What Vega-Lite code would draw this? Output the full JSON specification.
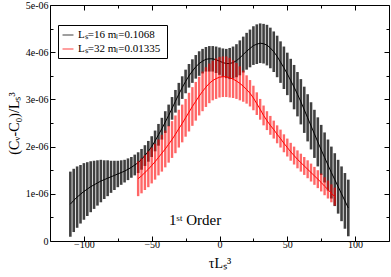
{
 "$schema": "https://vega.github.io/schema/vega-lite/v6.json",
 "width": 339, "height": 236,
 "autosize": "none",
 "padding": {"left": 50, "top": 5, "right": 2, "bottom": 36},
 "background": "white",
 "config": {
  "font": "Liberation Serif",
  "view": {"stroke": null},
  "axis": {"grid": false, "domainColor": "black", "tickColor": "black", "labelColor": "black", "titleColor": "black", "labelFont": "Liberation Serif", "titleFont": "Liberation Serif", "labelFontSize": 10, "titleFontWeight": "normal", "titleFontSize": 14},
  "legend": {"orient": "none", "legendX": 8, "legendY": 20, "strokeColor": "black", "fillColor": "white", "padding": 4, "symbolType": "stroke", "symbolStrokeWidth": 1, "symbolSize": 120, "labelFont": "Liberation Serif", "labelFontSize": 11, "rowPadding": 3}
 },
 "datasets": {
  "black": [
   {"x": -110, "y": 0.78e-6, "e": 0.69e-6}, {"x": -107.5, "y": 0.86e-6, "e": 0.67e-6}, {"x": -105, "y": 0.93e-6, "e": 0.65e-6}, {"x": -102.5, "y": 0.99e-6, "e": 0.62e-6},
   {"x": -100, "y": 1.05e-6, "e": 0.60e-6}, {"x": -97.5, "y": 1.10e-6, "e": 0.57e-6}, {"x": -95, "y": 1.15e-6, "e": 0.54e-6}, {"x": -92.5, "y": 1.19e-6, "e": 0.51e-6},
   {"x": -90, "y": 1.23e-6, "e": 0.48e-6}, {"x": -87.5, "y": 1.27e-6, "e": 0.45e-6}, {"x": -85, "y": 1.30e-6, "e": 0.41e-6}, {"x": -82.5, "y": 1.33e-6, "e": 0.38e-6},
   {"x": -80, "y": 1.36e-6, "e": 0.34e-6}, {"x": -77.5, "y": 1.39e-6, "e": 0.31e-6}, {"x": -75, "y": 1.42e-6, "e": 0.28e-6}, {"x": -72.5, "y": 1.45e-6, "e": 0.26e-6},
   {"x": -70, "y": 1.48e-6, "e": 0.24e-6}, {"x": -67.5, "y": 1.52e-6, "e": 0.23e-6}, {"x": -65, "y": 1.56e-6, "e": 0.22e-6}, {"x": -62.5, "y": 1.61e-6, "e": 0.22e-6},
   {"x": -60, "y": 1.66e-6, "e": 0.22e-6}, {"x": -57.5, "y": 1.73e-6, "e": 0.22e-6}, {"x": -55, "y": 1.81e-6, "e": 0.22e-6}, {"x": -52.5, "y": 1.90e-6, "e": 0.22e-6},
   {"x": -50, "y": 2.00e-6, "e": 0.22e-6}, {"x": -47.5, "y": 2.12e-6, "e": 0.22e-6}, {"x": -45, "y": 2.25e-6, "e": 0.23e-6}, {"x": -42.5, "y": 2.38e-6, "e": 0.23e-6},
   {"x": -40, "y": 2.52e-6, "e": 0.23e-6}, {"x": -37.5, "y": 2.66e-6, "e": 0.23e-6}, {"x": -35, "y": 2.81e-6, "e": 0.24e-6}, {"x": -32.5, "y": 2.96e-6, "e": 0.24e-6},
   {"x": -30, "y": 3.11e-6, "e": 0.24e-6}, {"x": -27.5, "y": 3.25e-6, "e": 0.24e-6}, {"x": -25, "y": 3.38e-6, "e": 0.25e-6}, {"x": -22.5, "y": 3.50e-6, "e": 0.25e-6},
   {"x": -20, "y": 3.60e-6, "e": 0.25e-6}, {"x": -17.5, "y": 3.69e-6, "e": 0.25e-6}, {"x": -15, "y": 3.76e-6, "e": 0.26e-6}, {"x": -12.5, "y": 3.81e-6, "e": 0.26e-6},
   {"x": -10, "y": 3.85e-6, "e": 0.26e-6}, {"x": -7.5, "y": 3.86e-6, "e": 0.27e-6}, {"x": -5, "y": 3.86e-6, "e": 0.27e-6}, {"x": -2.5, "y": 3.84e-6, "e": 0.28e-6},
   {"x": 0, "y": 3.81e-6, "e": 0.29e-6}, {"x": 2.5, "y": 3.78e-6, "e": 0.30e-6}, {"x": 5, "y": 3.76e-6, "e": 0.31e-6}, {"x": 7.5, "y": 3.76e-6, "e": 0.33e-6},
   {"x": 10, "y": 3.78e-6, "e": 0.34e-6}, {"x": 12.5, "y": 3.82e-6, "e": 0.35e-6}, {"x": 15, "y": 3.88e-6, "e": 0.37e-6}, {"x": 17.5, "y": 3.95e-6, "e": 0.38e-6},
   {"x": 20, "y": 4.02e-6, "e": 0.39e-6}, {"x": 22.5, "y": 4.08e-6, "e": 0.40e-6}, {"x": 25, "y": 4.14e-6, "e": 0.41e-6}, {"x": 27.5, "y": 4.17e-6, "e": 0.42e-6},
   {"x": 30, "y": 4.19e-6, "e": 0.42e-6}, {"x": 32.5, "y": 4.18e-6, "e": 0.42e-6}, {"x": 35, "y": 4.15e-6, "e": 0.43e-6}, {"x": 37.5, "y": 4.09e-6, "e": 0.43e-6},
   {"x": 40, "y": 4.01e-6, "e": 0.43e-6}, {"x": 42.5, "y": 3.91e-6, "e": 0.44e-6}, {"x": 45, "y": 3.79e-6, "e": 0.44e-6}, {"x": 47.5, "y": 3.67e-6, "e": 0.45e-6},
   {"x": 50, "y": 3.54e-6, "e": 0.45e-6}, {"x": 52.5, "y": 3.40e-6, "e": 0.46e-6}, {"x": 55, "y": 3.26e-6, "e": 0.47e-6}, {"x": 57.5, "y": 3.11e-6, "e": 0.47e-6},
   {"x": 60, "y": 2.95e-6, "e": 0.48e-6}, {"x": 62.5, "y": 2.78e-6, "e": 0.49e-6}, {"x": 65, "y": 2.61e-6, "e": 0.50e-6}, {"x": 67.5, "y": 2.44e-6, "e": 0.50e-6},
   {"x": 70, "y": 2.27e-6, "e": 0.51e-6}, {"x": 72.5, "y": 2.10e-6, "e": 0.52e-6}, {"x": 75, "y": 1.93e-6, "e": 0.53e-6}, {"x": 77.5, "y": 1.77e-6, "e": 0.53e-6},
   {"x": 80, "y": 1.61e-6, "e": 0.54e-6}, {"x": 82.5, "y": 1.45e-6, "e": 0.55e-6}, {"x": 85, "y": 1.30e-6, "e": 0.56e-6}, {"x": 87.5, "y": 1.15e-6, "e": 0.57e-6},
   {"x": 90, "y": 1.00e-6, "e": 0.58e-6}, {"x": 92.5, "y": 0.85e-6, "e": 0.59e-6}, {"x": 95, "y": 0.70e-6, "e": 0.60e-6}
  ],
  "red": [
   {"x": -60, "y": 1.32e-6, "e": 0.37e-6}, {"x": -57.5, "y": 1.38e-6, "e": 0.37e-6}, {"x": -55, "y": 1.45e-6, "e": 0.37e-6}, {"x": -52.5, "y": 1.52e-6, "e": 0.38e-6},
   {"x": -50, "y": 1.60e-6, "e": 0.38e-6}, {"x": -47.5, "y": 1.68e-6, "e": 0.38e-6}, {"x": -45, "y": 1.77e-6, "e": 0.38e-6}, {"x": -42.5, "y": 1.86e-6, "e": 0.39e-6},
   {"x": -40, "y": 1.95e-6, "e": 0.39e-6}, {"x": -37.5, "y": 2.05e-6, "e": 0.39e-6}, {"x": -35, "y": 2.15e-6, "e": 0.39e-6}, {"x": -32.5, "y": 2.26e-6, "e": 0.40e-6},
   {"x": -30, "y": 2.38e-6, "e": 0.40e-6}, {"x": -27.5, "y": 2.49e-6, "e": 0.40e-6}, {"x": -25, "y": 2.61e-6, "e": 0.40e-6}, {"x": -22.5, "y": 2.73e-6, "e": 0.41e-6},
   {"x": -20, "y": 2.85e-6, "e": 0.41e-6}, {"x": -17.5, "y": 2.96e-6, "e": 0.41e-6}, {"x": -15, "y": 3.07e-6, "e": 0.41e-6}, {"x": -12.5, "y": 3.17e-6, "e": 0.42e-6},
   {"x": -10, "y": 3.26e-6, "e": 0.42e-6}, {"x": -7.5, "y": 3.34e-6, "e": 0.42e-6}, {"x": -5, "y": 3.40e-6, "e": 0.42e-6}, {"x": -2.5, "y": 3.44e-6, "e": 0.43e-6},
   {"x": 0, "y": 3.47e-6, "e": 0.43e-6}, {"x": 2.5, "y": 3.48e-6, "e": 0.43e-6}, {"x": 5, "y": 3.48e-6, "e": 0.43e-6}, {"x": 7.5, "y": 3.46e-6, "e": 0.42e-6},
   {"x": 10, "y": 3.43e-6, "e": 0.40e-6}, {"x": 12.5, "y": 3.39e-6, "e": 0.38e-6}, {"x": 15, "y": 3.34e-6, "e": 0.36e-6}, {"x": 17.5, "y": 3.28e-6, "e": 0.33e-6},
   {"x": 20, "y": 3.21e-6, "e": 0.30e-6}, {"x": 22.5, "y": 3.13e-6, "e": 0.28e-6}, {"x": 25, "y": 3.03e-6, "e": 0.26e-6}, {"x": 27.5, "y": 2.91e-6, "e": 0.24e-6},
   {"x": 30, "y": 2.79e-6, "e": 0.22e-6}, {"x": 32.5, "y": 2.66e-6, "e": 0.21e-6}, {"x": 35, "y": 2.55e-6, "e": 0.20e-6}, {"x": 37.5, "y": 2.45e-6, "e": 0.20e-6},
   {"x": 40, "y": 2.36e-6, "e": 0.19e-6}, {"x": 42.5, "y": 2.26e-6, "e": 0.19e-6}, {"x": 45, "y": 2.17e-6, "e": 0.19e-6}, {"x": 47.5, "y": 2.07e-6, "e": 0.19e-6},
   {"x": 50, "y": 1.98e-6, "e": 0.19e-6}, {"x": 52.5, "y": 1.89e-6, "e": 0.19e-6}, {"x": 55, "y": 1.81e-6, "e": 0.19e-6}, {"x": 57.5, "y": 1.73e-6, "e": 0.19e-6},
   {"x": 60, "y": 1.66e-6, "e": 0.19e-6}, {"x": 62.5, "y": 1.59e-6, "e": 0.19e-6}, {"x": 65, "y": 1.52e-6, "e": 0.19e-6}, {"x": 67.5, "y": 1.45e-6, "e": 0.19e-6},
   {"x": 70, "y": 1.38e-6, "e": 0.19e-6}, {"x": 72.5, "y": 1.31e-6, "e": 0.19e-6}, {"x": 75, "y": 1.24e-6, "e": 0.19e-6}, {"x": 77.5, "y": 1.16e-6, "e": 0.19e-6},
   {"x": 80, "y": 1.09e-6, "e": 0.19e-6}, {"x": 82.5, "y": 1.01e-6, "e": 0.19e-6}, {"x": 85, "y": 0.94e-6, "e": 0.19e-6}
  ],
  "notes": [{"x": -18, "y": 0.45e-6, "t": "1ˢᵗ Order"}]
 },
 "layer": [
  {
   "data": {"name": "black"},
   "mark": {"type": "errorbar", "thickness": 2.6, "opacity": 0.75},
   "encoding": {
    "x": {"field": "x", "type": "quantitative", "scale": {"domain": [-125, 125], "nice": false},
          "axis": {"orient": "bottom", "values": [-100, -50, 0, 50, 100], "tickSize": -5, "labelPadding": 3, "title": "τLₛ³", "titlePadding": 7}},
    "y": {"field": "y", "type": "quantitative", "scale": {"domain": [0, 5e-6], "nice": false},
          "axis": {"orient": "left", "values": [0, 1e-6, 2e-6, 3e-6, 4e-6, 5e-6], "tickSize": -5, "labelPadding": 7,
                   "labelExpr": "datum.value == 0 ? '0' : replace(format(datum.value, '.0e'), 'e-', 'e-0')", "title": "(Cᵥ-C₀)/Lₛ³", "titlePadding": 4}},
    "yError": {"field": "e"},
    "color": {"datum": "Lₛ=16  mₗ=0.1068", "type": "nominal",
              "scale": {"domain": ["Lₛ=16  mₗ=0.1068", "Lₛ=32  mₗ=0.01335"], "range": ["black", "red"]},
              "legend": {"title": null}}
   }
  },
  {
   "data": {"name": "black"},
   "mark": {"type": "line", "strokeWidth": 1},
   "encoding": {
    "x": {"field": "x", "type": "quantitative", "axis": {"orient": "top", "values": [-100, -50, 0, 50, 100], "tickSize": -5, "labels": false, "title": null}},
    "y": {"field": "y", "type": "quantitative", "axis": {"orient": "right", "values": [0, 1e-6, 2e-6, 3e-6, 4e-6, 5e-6], "tickSize": -5, "labels": false, "title": null}},
    "color": {"datum": "Lₛ=16  mₗ=0.1068", "type": "nominal"}
   }
  },
  {
   "data": {"name": "red"},
   "mark": {"type": "errorbar", "thickness": 2.4, "opacity": 0.6},
   "encoding": {
    "x": {"field": "x", "type": "quantitative", "axis": {"orient": "bottom", "values": [-75, -25, 25, 75], "tickSize": -3, "labels": false, "domain": false, "title": null}},
    "y": {"field": "y", "type": "quantitative", "axis": {"orient": "left", "values": [0.5e-6, 1.5e-6, 2.5e-6, 3.5e-6, 4.5e-6], "tickSize": -3, "labels": false, "domain": false, "title": null}},
    "yError": {"field": "e"},
    "color": {"datum": "Lₛ=32  mₗ=0.01335", "type": "nominal"}
   }
  },
  {
   "data": {"name": "red"},
   "mark": {"type": "line", "strokeWidth": 1},
   "encoding": {
    "x": {"field": "x", "type": "quantitative", "axis": {"orient": "top", "values": [-75, -25, 25, 75], "tickSize": -3, "labels": false, "domain": false, "title": null}},
    "y": {"field": "y", "type": "quantitative", "axis": {"orient": "right", "values": [0.5e-6, 1.5e-6, 2.5e-6, 3.5e-6, 4.5e-6], "tickSize": -3, "labels": false, "domain": false, "title": null}},
    "color": {"datum": "Lₛ=32  mₗ=0.01335", "type": "nominal"}
   }
  },
  {
   "data": {"name": "notes"},
   "mark": {"type": "text", "font": "Liberation Serif", "fontSize": 15, "color": "black"},
   "encoding": {
    "x": {"field": "x", "type": "quantitative", "axis": null},
    "y": {"field": "y", "type": "quantitative", "axis": null},
    "text": {"field": "t"}
   }
  }
 ],
 "resolve": {"axis": {"x": "independent", "y": "independent"}}
}
